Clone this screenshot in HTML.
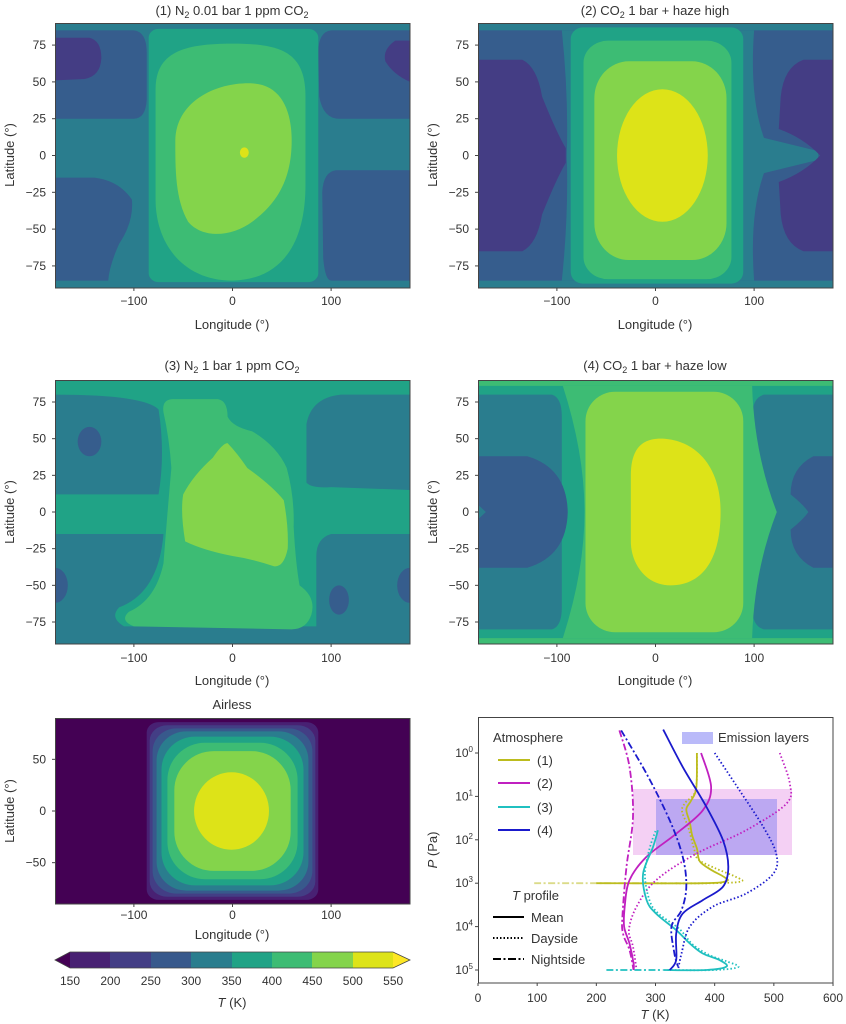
<!DOCTYPE html>
<html><head><meta charset="utf-8"><style>
html,body{margin:0;padding:0;background:#fff;}
svg{display:block;font-family:"Liberation Sans",sans-serif;}
.t{font-size:13px;fill:#333;}
.k{font-size:12px;fill:#333;}
</style></head><body>
<svg id="root" width="846" height="1024" viewBox="0 0 846 1024" xmlns="http://www.w3.org/2000/svg">
<!-- Panel 1 -->
<svg x="55" y="23" width="355" height="265" viewBox="-180 -90 360 180" preserveAspectRatio="none">
<rect x="-180" y="-90" width="360" height="180" fill="#2a7d8e"/>
<path fill="#365d8d" d="M-180,-85 L-100,-85 Q-87,-84 -87,-70 L-87,-38 Q-88,-25 -100,-25 L-180,-25 Z"/>
<path fill="#365d8d" d="M-180,15 L-140,15 Q-115,17 -102,30 Q-100,45 -115,60 Q-125,75 -126,85 L-180,85 Z"/>
<path fill="#365d8d" d="M180,-85 L100,-85 Q87,-84 87,-70 L88,-40 Q92,-25 108,-25 L180,-25 Z"/>
<path fill="#365d8d" d="M180,10 L105,10 Q92,11 91,25 L92,70 Q94,85 100,85 L180,85 Z"/>
<path fill="#443d84" d="M-180,-80 L-145,-80 Q-133,-78 -133,-66 Q-134,-54 -150,-52 L-180,-51 Z"/>
<path fill="#443d84" d="M180,-78 L165,-78 Q152,-72 155,-64 Q163,-55 180,-50 Z"/>
<rect x="-85" y="-86" width="172" height="172" rx="10" ry="6" fill="#20a386"/>
<path fill="#3dbc74" d="M-78,-45 C-78,-70 -50,-76 0,-76 C50,-76 74,-70 74,-40 L74,20 C74,55 55,84 0,85 C-50,85 -78,60 -78,30 Z"/>
<path fill="#84d44b" d="M-58,-10 C-58,-35 -20,-50 20,-49 C50,-48 60,-30 60,-10 C60,20 40,35 20,45 C0,55 -30,57 -45,45 C-58,30 -58,10 -58,-10 Z"/>
<ellipse cx="12" cy="-2" rx="4.5" ry="3.5" fill="#dde318"/>
</svg>
<!-- Panel 2 -->
<svg x="478" y="23" width="355" height="265" viewBox="-180 -90 360 180" preserveAspectRatio="none">
<rect x="-180" y="-90" width="360" height="180" fill="#365d8d"/>
<rect x="-180" y="-90" width="360" height="5" fill="#2a7d8e"/>
<rect x="-180" y="85" width="360" height="5" fill="#2a7d8e"/>
<path fill="#2a7d8e" d="M-95,-85 L100,-85 Q95,-40 110,-12 L165,-3 L165,3 L110,12 Q95,40 100,85 L-95,85 Q-88,40 -90,0 Q-88,-40 -95,-85 Z"/>
<path fill="#443d84" d="M-180,-65 L-135,-65 Q-120,-60 -115,-40 Q-100,-15 -91,-5 L-91,5 Q-100,15 -115,40 Q-120,60 -135,65 L-180,65 Z"/>
<path fill="#443d84" d="M180,-65 L150,-65 Q130,-60 127,-40 L125,-18 Q150,-12 167,0 Q150,12 125,18 L127,40 Q130,60 150,65 L180,65 Z"/>
<rect x="-86" y="-87" width="175" height="174" rx="12" ry="8" fill="#20a386"/>
<rect x="-73" y="-78" width="150" height="162" rx="25" ry="15" fill="#3dbc74"/>
<rect x="-62" y="-64" width="134" height="135" rx="35" ry="25" fill="#84d44b"/>
<ellipse cx="7" cy="0" rx="46" ry="45" fill="#dde318"/>
</svg>
<!-- Panel 3 -->
<svg x="55" y="380" width="355" height="264" viewBox="-180 -90 360 180" preserveAspectRatio="none">
<rect x="-180" y="-90" width="360" height="180" fill="#2a7d8e"/>
<path fill="#20a386" d="M-180,-90 L180,-90 L180,-80 L110,-80 Q80,-78 75,-60 L75,-20 Q80,-16 100,-17 L180,-15 L180,15 L100,15 Q85,18 85,30 L85,78 L-110,78 Q-125,72 -115,65 Q-75,55 -70,15 L-180,15 L-180,-12 L-75,-12 Q-68,-40 -75,-70 Q-90,-80 -180,-80 Z"/>
<ellipse cx="-145" cy="-48" rx="12" ry="10" fill="#365d8d"/>
<ellipse cx="-180" cy="50" rx="13" ry="12" fill="#365d8d"/>
<ellipse cx="180" cy="50" rx="13" ry="12" fill="#365d8d"/>
<ellipse cx="108" cy="60" rx="10" ry="10" fill="#365d8d"/>
<path fill="#3dbc74" d="M-70,-68 Q-72,-77 -60,-77 L-15,-77 Q-5,-76 -5,-65 Q0,-58 20,-55 Q45,-45 55,-30 Q63,-10 62,10 Q64,35 68,50 Q85,58 80,70 Q75,80 60,80 L-100,78 Q-115,74 -105,68 Q-78,60 -70,35 Q-66,0 -62,-30 Q-64,-50 -70,-68 Z"/>
<path fill="#84d44b" d="M-5,-47 Q5,-40 15,-30 Q40,-18 52,-8 Q57,10 56,25 Q52,38 42,37 Q20,32 0,30 Q-30,26 -48,20 Q-53,0 -50,-12 Q-40,-25 -20,-37 Q-10,-47 -5,-47 Z"/>
</svg>
<!-- Panel 4 -->
<svg x="478" y="380" width="355" height="264" viewBox="-180 -90 360 180" preserveAspectRatio="none">
<rect x="-180" y="-90" width="360" height="180" fill="#20a386"/>
<rect x="-180" y="-90" width="360" height="4" fill="#3dbc74"/>
<rect x="-180" y="86" width="360" height="4" fill="#3dbc74"/>
<path fill="#2a7d8e" d="M-180,-80 L-105,-80 Q-95,-78 -95,-65 L-95,65 Q-95,78 -105,80 L-180,80 Z"/>
<path fill="#2a7d8e" d="M180,-80 L110,-80 Q98,-78 98,-65 L98,65 Q98,78 110,80 L180,80 Z"/>
<path fill="#365d8d" d="M-180,-38 L-130,-38 Q-90,-30 -89,0 Q-90,30 -130,38 L-180,38 Z"/>
<path fill="#2a7d8e" d="M-180,-5 L-172,0 L-180,5 Z"/>
<path fill="#365d8d" d="M180,-38 L160,-38 Q137,-30 137,-12 Q150,-5 155,0 Q150,5 137,12 Q137,30 160,38 L180,38 Z"/>
<path fill="#3dbc74" d="M-94,-86 L98,-86 Q100,-40 123,0 Q100,40 98,86 L-94,86 Q-72,40 -72,0 Q-72,-40 -94,-86 Z"/>
<rect x="-71" y="-82" width="160" height="164" rx="30" ry="20" fill="#84d44b"/>
<path fill="#dde318" d="M5,-50 C35,-50 66,-35 66,0 C66,30 50,50 15,50 C-10,50 -25,35 -25,20 L-25,-25 C-25,-42 -15,-50 5,-50 Z"/>
</svg>
<!-- Airless -->
<svg x="55" y="718" width="355" height="186" viewBox="-180 -90 360 180" preserveAspectRatio="none">
<rect x="-180" y="-90" width="360" height="180" fill="#440154"/>
<rect x="-87" y="-86" width="174" height="172" rx="12" ry="10" fill="#482173"/>
<rect x="-84" y="-83" width="168" height="166" rx="18" ry="15" fill="#433e85"/>
<rect x="-81" y="-80" width="162" height="160" rx="24" ry="22" fill="#38598c"/>
<rect x="-77" y="-77" width="154" height="154" rx="30" ry="28" fill="#2a7d8e"/>
<rect x="-72" y="-72" width="144" height="144" rx="34" ry="32" fill="#20a386"/>
<rect x="-66" y="-66" width="132" height="132" rx="38" ry="36" fill="#3dbc74"/>
<rect x="-59" y="-58" width="118" height="116" rx="40" ry="38" fill="#84d44b"/>
<ellipse cx="-1" cy="0" rx="38" ry="37.5" fill="#dde318"/>
</svg>
<g fill="none" stroke="#444" stroke-width="1">
<rect x="55.5" y="23.5" width="354.5" height="264.5"/>
<rect x="478.5" y="23.5" width="354.5" height="264.5"/>
<rect x="55.5" y="380.5" width="354.5" height="263.5"/>
<rect x="478.5" y="380.5" width="354.5" height="263.5"/>
<rect x="55.5" y="718.5" width="354.5" height="185.5"/>
<rect x="478.5" y="717.5" width="354.5" height="265.5"/>
</g>
<!-- titles -->
<g class="t" text-anchor="middle">
<text x="232" y="15">(1) N<tspan font-size="9" dy="3">2</tspan><tspan dy="-3"> 0.01 bar 1 ppm CO</tspan><tspan font-size="9" dy="3">2</tspan></text>
<text x="655" y="15">(2) CO<tspan font-size="9" dy="3">2</tspan><tspan dy="-3"> 1 bar + haze high</tspan></text>
<text x="232" y="370">(3) N<tspan font-size="9" dy="3">2</tspan><tspan dy="-3"> 1 bar 1 ppm CO</tspan><tspan font-size="9" dy="3">2</tspan></text>
<text x="655" y="370">(4) CO<tspan font-size="9" dy="3">2</tspan><tspan dy="-3"> 1 bar + haze low</tspan></text>
<text x="232" y="709">Airless</text>
<text x="232" y="329">Longitude (°)</text>
<text x="655" y="329">Longitude (°)</text>
<text x="232" y="685">Longitude (°)</text>
<text x="655" y="685">Longitude (°)</text>
<text x="232" y="939">Longitude (°)</text>
<text x="232" y="1007"><tspan font-style="italic">T</tspan> (K)</text>
<text x="655" y="1019"><tspan font-style="italic">T</tspan> (K)</text>
<text transform="translate(14,155) rotate(-90)">Latitude (°)</text>
<text transform="translate(437,155) rotate(-90)">Latitude (°)</text>
<text transform="translate(14,512) rotate(-90)">Latitude (°)</text>
<text transform="translate(437,512) rotate(-90)">Latitude (°)</text>
<text transform="translate(14,811) rotate(-90)">Latitude (°)</text>
<text transform="translate(437,850) rotate(-90)"><tspan font-style="italic">P</tspan> (Pa)</text>
</g>
<g id="ticks" class="k"></g>
<!-- colorbar -->
<g>
<path d="M55,960 L70,952 L70,968 Z" fill="#440154"/>
<rect x="70" y="952" width="41" height="16" fill="#482173"/>
<rect x="110" y="952" width="41" height="16" fill="#433e85"/>
<rect x="151" y="952" width="41" height="16" fill="#38598c"/>
<rect x="191" y="952" width="41" height="16" fill="#2a7d8e"/>
<rect x="232" y="952" width="41" height="16" fill="#20a386"/>
<rect x="272" y="952" width="41" height="16" fill="#3dbc74"/>
<rect x="312" y="952" width="41" height="16" fill="#84d44b"/>
<rect x="353" y="952" width="40" height="16" fill="#dde318"/>
<path d="M393,952 L410,960 L393,968 Z" fill="#fde725"/>
<path d="M55,960 L70,952 L393,952 L410,960 L393,968 L70,968 Z" fill="none" stroke="#444" stroke-width="0.8"/>
</g>
<!-- panel 6 -->
<rect x="633" y="789" width="159" height="66" fill="rgba(230,150,230,0.45)"/>
<rect x="656" y="799" width="121" height="56" fill="rgba(120,120,240,0.45)"/>
<g id="prof"></g>
<g class="t">
<text x="493" y="742">Atmosphere</text>
<rect x="682" y="732" width="31" height="12" fill="rgba(140,140,245,0.6)"/>
<text x="718" y="742">Emission layers</text>
<text x="537" y="765">(1)</text><text x="537" y="788">(2)</text><text x="537" y="812">(3)</text><text x="537" y="835">(4)</text>
<text x="512" y="900"><tspan font-style="italic">T</tspan> profile</text>
<text x="531" y="922">Mean</text><text x="531" y="943">Dayside</text><text x="531" y="964">Nightside</text>
</g>
<g stroke-width="2" fill="none">
<line x1="498" y1="760" x2="530" y2="760" stroke="#bcbc1e"/>
<line x1="498" y1="783" x2="530" y2="783" stroke="#c020c0"/>
<line x1="498" y1="807" x2="530" y2="807" stroke="#20c0c0"/>
<line x1="498" y1="830" x2="530" y2="830" stroke="#1a1acc"/>
<line x1="493" y1="917" x2="524" y2="917" stroke="#000"/>
<line x1="493" y1="938" x2="524" y2="938" stroke="#000" stroke-dasharray="1.5 2"/>
<line x1="493" y1="959" x2="524" y2="959" stroke="#000" stroke-dasharray="8 2.5 2 2.5"/>
</g>
</svg>
<script>
(function(){
var NS="http://www.w3.org/2000/svg";
var tk=document.getElementById('ticks');
function txt(x,y,s,anchor){var t=document.createElementNS(NS,'text');t.setAttribute('x',x);t.setAttribute('y',y);t.setAttribute('text-anchor',anchor);t.innerHTML=s;tk.appendChild(t);}
function ln(x1,y1,x2,y2){var l=document.createElementNS(NS,'line');l.setAttribute('x1',x1);l.setAttribute('y1',y1);l.setAttribute('x2',x2);l.setAttribute('y2',y2);l.setAttribute('stroke','#444');tk.appendChild(l);}
function lab(v){return v<0?'\u2212'+(-v):''+v;}
var panels=[[55,23,265,300],[478,23,265,300],[55,380,264,657],[478,380,264,657]];
panels.forEach(function(p){
 [-100,0,100].forEach(function(v){var x=p[0]+(v+180)/360*355;txt(x,p[3]+5,lab(v),'middle');ln(x,p[1]+p[2],x,p[1]+p[2]+3);});
 [75,50,25,0,-25,-50,-75].forEach(function(v){var y=p[1]+(90-v)/180*p[2];txt(p[0]-9,y+4,lab(v),'end');ln(p[0]-3,y,p[0],y);});
});
[-100,0,100].forEach(function(v){var x=55+(v+180)/360*355;txt(x,919,lab(v),'middle');ln(x,904,x,907);});
[50,0,-50].forEach(function(v){var y=718+(90-v)/180*186;txt(46,y+4,lab(v),'end');ln(52,y,55,y);});
[150,200,250,300,350,400,450,500,550].forEach(function(v,i){txt(70+i*40.4,985,''+v,'middle');});
var X=function(T){return 478+T*0.5917;},Y=function(l){return 753+43.4*l;};
[0,100,200,300,400,500,600].forEach(function(v){txt(X(v),1002,''+v,'middle');ln(X(v),983,X(v),986);});
[0,1,2,3,4,5].forEach(function(v){txt(473,Y(v)+4,'10<tspan font-size="8" dy="-5">'+v+'</tspan>','end');ln(475,Y(v),478,Y(v));});
var pg=document.getElementById('prof');
function curve(pts,col,dash,w){
 var P=pts.map(function(p){return [X(p[0]),Y(p[1])];});
 var d='M'+P[0][0].toFixed(1)+','+P[0][1].toFixed(1);
 for(var i=0;i<P.length-1;i++){
  var p0=P[i-1]||P[i],p1=P[i],p2=P[i+1],p3=P[i+2]||P[i+1];
  var c1=[p1[0]+(p2[0]-p0[0])/6,p1[1]+(p2[1]-p0[1])/6],c2=[p2[0]-(p3[0]-p1[0])/6,p2[1]-(p3[1]-p1[1])/6];
  d+=' C'+c1[0].toFixed(1)+','+c1[1].toFixed(1)+' '+c2[0].toFixed(1)+','+c2[1].toFixed(1)+' '+p2[0].toFixed(1)+','+p2[1].toFixed(1);
 }
 var e=document.createElementNS(NS,'path');e.setAttribute('d',d);e.setAttribute('fill','none');e.setAttribute('stroke',col);e.setAttribute('stroke-width',w||1.8);
 if(dash)e.setAttribute('stroke-dasharray',dash);pg.appendChild(e);
}
var DOT='1.5 2.2',DD='7 2.5 2 2.5';
var C1='#bcbc1e',C2='#c020c0',C3='#20c0c0',C4='#1a1acc';
curve([[95,3.0],[340,3.0]],'rgba(190,190,40,0.55)',DD);
curve([[370,0],[368,0.85],[350,1.15],[345,1.35],[355,1.7],[365,2.2],[372,2.45],[400,2.65],[435,2.85],[445,2.96],[400,3.0],[300,3.0]],C1,DOT);
curve([[370,0],[369,0.8],[360,1.1],[352,1.3],[358,1.6],[362,1.9],[370,2.2],[375,2.5],[395,2.7],[415,2.85],[420,2.95],[380,3.0],[200,3.0]],C1);
curve([[239,-0.52],[256,0.32],[262,1.47],[251,2.62],[244,3.77],[245,4.16],[256,4.54],[263,5]],C2,DD);
curve([[510,0],[527,0.7],[521,1.17],[453,1.78],[369,2.32],[301,2.93],[268,3.54],[255,4.08],[262,4.46],[268,5]],C2,DOT);
curve([[377,0],[394,0.78],[380,1.32],[335,1.86],[285,2.39],[256,2.93],[248,3.54],[247,4.0],[256,4.39],[263,4.85],[263,5.0]],C2);
curve([[217,5.0],[312,5.0]],C3,DD);
curve([[300,1.8],[290,2.2],[282,2.8],[290,3.4],[305,3.7],[340,4.05],[362,4.4],[390,4.65],[420,4.8],[440,4.93],[400,5.0],[320,5.0]],C3,DOT);
curve([[304,1.78],[296,2.16],[279,2.78],[285,3.39],[301,3.7],[335,4.08],[358,4.39],[380,4.62],[408,4.77],[420,4.92],[386,5.0],[313,5.0]],C3);
curve([[242,-0.52],[285,0.48],[324,1.55],[346,2.39],[352,3.08],[344,3.62],[327,4.0],[332,4.62],[338,4.92]],C4,DD);
curve([[400,0],[442,0.86],[482,1.7],[504,2.32],[499,2.78],[453,3.24],[397,3.54],[358,4.0],[344,4.62],[338,5]],C4,DOT);
curve([[313,-0.54],[346,0.32],[386,1.24],[414,2.01],[423,2.62],[414,3.08],[380,3.39],[346,3.7],[335,4.16],[335,4.77],[324,5]],C4);
})();
</script>
</body></html>
